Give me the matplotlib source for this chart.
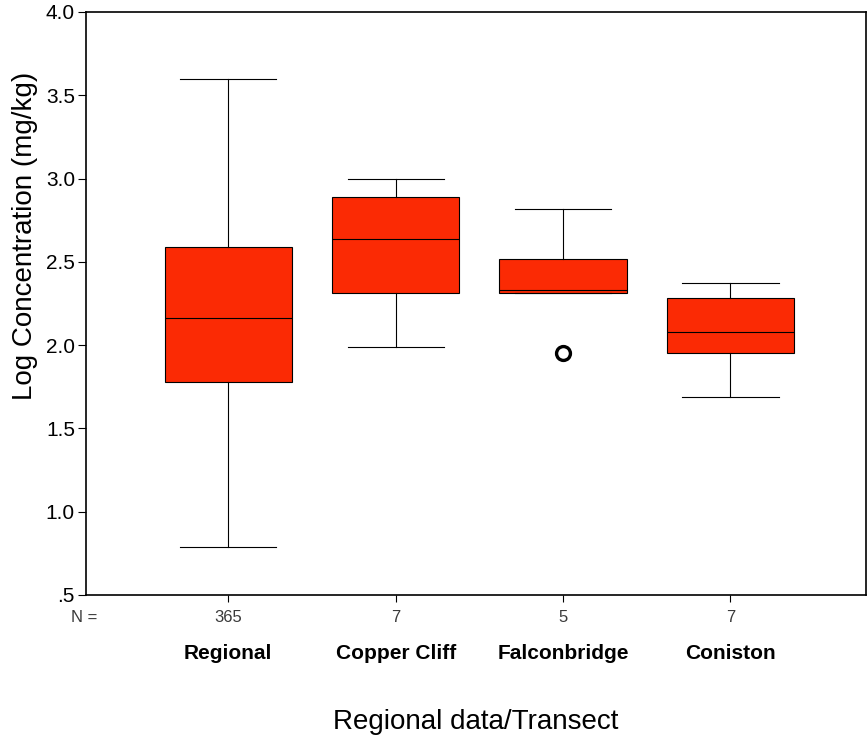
import matplotlib.pyplot as plt
import numpy as np

# Box statistics (log mg/kg)
categories = ["Regional", "Copper Cliff", "Falconbridge", "Coniston"]
n_values = ["365", "7", "5", "7"]
whisker_low = [0.79, 1.99, 2.31, 1.69]
q1 = [1.78, 2.31, 2.31, 1.95]
median = [2.16, 2.64, 2.33, 2.08]
q3 = [2.59, 2.89, 2.52, 2.28]
whisker_high = [3.60, 3.00, 2.82, 2.37]
outliers = [[], [], [1.95], []]

ytick_vals = [0.5, 1.0, 1.5, 2.0, 2.5, 3.0, 3.5, 4.0]
ytick_labels = [".5", "1.0", "1.5", "2.0", "2.5", "3.0", "3.5", "4.0"]

plt.rcParams['font.family'] = ['Liberation Sans', 'DejaVu Sans']

fig = plt.figure(figsize=(8.67, 7.40), dpi=100)
ax = fig.add_axes([0.0992, 0.196, 0.8996, 0.7878])

stats = []
for i in range(len(categories)):
    stats.append(dict(label=categories[i], whislo=whisker_low[i], q1=q1[i],
                      med=median[i], q3=q3[i], whishi=whisker_high[i],
                      fliers=outliers[i]))

positions = np.arange(1, len(categories) + 1)
ax.bxp(stats, positions=positions, widths=0.76, capwidths=0.575,
       patch_artist=True, showfliers=True,
       boxprops=dict(facecolor='#fb2a04', edgecolor='black', linewidth=0.8),
       medianprops=dict(color='black', linewidth=0.8),
       whiskerprops=dict(color='black', linewidth=0.8),
       capprops=dict(color='black', linewidth=0.8),
       flierprops=dict(marker='o', markersize=10, markerfacecolor='white',
                       markeredgecolor='black', markeredgewidth=2.4))

ax.set_xlim(0.15, 4.81)
ax.set_ylim(0.5, 4.0)
ax.set_yticks(ytick_vals)
ax.set_yticklabels(ytick_labels, fontsize=15)
ax.set_xticks(positions)
ax.set_xticklabels(n_values, fontsize=12, color='#3a3a3a')
ax.tick_params(axis='y', direction='out', length=6, width=0.8, pad=2)
ax.tick_params(axis='x', direction='out', length=5, width=0.8, pad=6)
for s in ax.spines.values():
    s.set_linewidth(1.2)

# "N =" label and category names below the counts
ax.annotate("N =", xy=(0, 0), xycoords='axes fraction', xytext=(-1, -11),
            textcoords='offset points', ha='center', va='top',
            fontsize=12, color='#3a3a3a')
for pos, name in zip(positions, categories):
    ax.annotate(name, xy=(pos, 0), xycoords=('data', 'axes fraction'),
                xytext=(0, -35), textcoords='offset points',
                ha='center', va='top', fontsize=15, fontweight='bold')

ax.set_ylabel("Log Concentration (mg/kg)", fontsize=20)
ax.yaxis.set_label_coords(-0.062, 0.616)
ax.set_xlabel("Regional data/Transect", fontsize=20)
ax.xaxis.set_label_coords(0.5, -0.196)

fig.savefig("out.png", dpi=100)
